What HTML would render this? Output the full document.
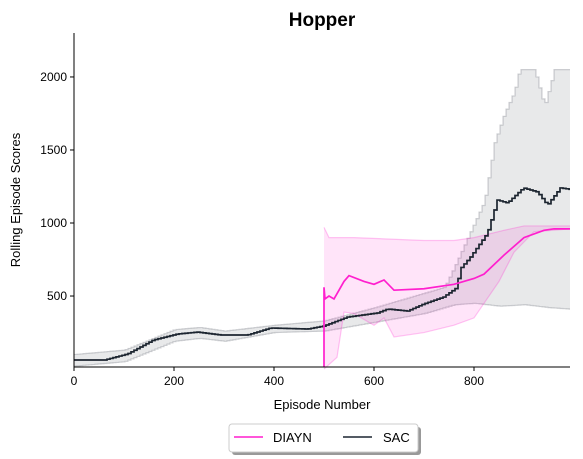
<!DOCTYPE html>
<html><head><meta charset="utf-8"><style>
body{margin:0;background:#fff;}
svg{font-family:"Liberation Sans",sans-serif;display:block;}
</style></head><body>
<svg id="chart" width="583" height="459">
<text x="322" y="26" text-anchor="middle" font-size="19" font-weight="bold">Hopper</text>
<g id="plot"></g>
<g id="axes"></g>
<text x="322" y="409" text-anchor="middle" font-size="13">Episode Number</text>
<text transform="translate(20,200) rotate(-90)" text-anchor="middle" font-size="13">Rolling Episode Scores</text>
<g>
<rect x="232" y="427" width="189" height="28" rx="3" fill="#999"/>
<rect x="229" y="424" width="189" height="28" rx="3" fill="#fff" stroke="#ccc"/>
<g><line x1="234" y1="437" x2="263" y2="437" stroke="#ff1fce" stroke-width="1.5"/><text x="273" y="442" font-size="13">DIAYN</text></g>
<g><line x1="343" y1="437" x2="372" y2="437" stroke="#1c2530" stroke-width="1.5"/><text x="383" y="442" font-size="13">SAC</text></g>
</g>
</svg>
<script>
const sacEp=[0,50,60,106,158,206,246,292,346,392,466,498,546,606,626,666,698,738,766,770,792,826,846,866,898,926,946,972,992];
const sacMean=[62,62,62,103,199,240,253,233,233,281,274,294,356,384,411,397,445,493,560,680,767,931,1157,1137,1240,1212,1123,1240,1230];
const sacBandEp=[0,100,200,250,300,400,500,600,700,740,760,780,800,820,840,860,880,890,920,940,960,992];
const sacUpper=[100,130,270,285,260,300,330,420,520,560,700,850,1000,1150,1550,1750,1900,2050,2050,1800,2050,2050];
const sacLowerEp=[0,100,200,250,300,400,500,600,700,760,800,850,900,950,992];
const sacLower=[20,50,190,210,190,250,260,320,380,440,450,430,440,420,410];
const dEp=[500,502,510,520,540,550,580,600,620,640,700,760,800,820,860,900,940,960,992];
const dMean=[560,480,500,480,600,640,600,580,610,540,550,580,620,650,780,900,950,960,960];
const dUpEp=[500,510,560,700,760,800,860,900,992];
const dUpper=[970,900,900,880,880,900,950,980,980];
const dLoEp=[500,526,540,560,600,620,640,700,760,800,850,880,920,992];
const dLower=[0,80,390,380,300,350,220,250,300,350,600,800,940,960];
const X0=74,X1=570,Y0=367,Y1=33;
const xmin=0,xmax=992,ymin=14,ymax=2301;
const sx=v=>X0+(v-xmin)/(xmax-xmin)*(X1-X0);
const sy=v=>Y0-(v-ymin)/(ymax-ymin)*(Y0-Y1);
const NS="http://www.w3.org/2000/svg";
const plot=document.getElementById('plot'),axes=document.getElementById('axes');
function interp(ex,vs,e){if(e<=ex[0])return vs[0];for(let i=1;i<ex.length;i++){if(e<=ex[i]){const t=(e-ex[i-1])/(ex[i]-ex[i-1]);return vs[i-1]+t*(vs[i]-vs[i-1]);}}return vs[vs.length-1];}
function stepPts(ex,vs,step){const pts=[];for(let e=ex[0];e<=ex[ex.length-1];e+=step){const v=interp(ex,vs,e);pts.push([sx(e),sy(v)]);pts.push([sx(Math.min(e+step,ex[ex.length-1])),sy(v)]);}return pts;}
function smoothPts(ex,vs){return ex.map((e,i)=>[sx(e),sy(vs[i])]);}
function mk(tag,attrs){const el=document.createElementNS(NS,tag);for(const k in attrs)el.setAttribute(k,attrs[k]);return el;}
function band(up,lo,fill,stroke,name){const d='M'+up.map(p=>p.join(',')).join('L')+'L'+lo.slice().reverse().map(p=>p.join(',')).join('L')+'Z';
const p=mk('path',{d:d,fill:fill,stroke:'none'});


plot.appendChild(p);
[up,lo].forEach(pts=>{const l=mk('path',{d:'M'+pts.map(q=>q.join(',')).join('L'),fill:'none',stroke:stroke,'stroke-width':1.2});


plot.appendChild(l);});}
band(stepPts(sacBandEp,sacUpper,6),stepPts(sacLowerEp,sacLower,6),'rgba(28,37,48,0.1)','rgba(28,37,48,0.2)','sac-band');
band(smoothPts(dUpEp,dUpper),smoothPts(dLoEp,dLower),'rgba(255,31,206,0.12)','rgba(255,31,206,0.25)','diayn-band');
const sacLine=mk('path',{d:'M'+stepPts(sacEp,sacMean,6).map(p=>p.join(',')).join('L'),fill:'none',stroke:'#1c2530','stroke-width':1.7});


plot.appendChild(sacLine);
const dp=[[sx(dEp[0]),Y0]].concat(smoothPts(dEp,dMean));
const dLine=mk('path',{d:'M'+dp.map(p=>p.join(',')).join('L'),fill:'none',stroke:'#ff1fce','stroke-width':1.7});


plot.appendChild(dLine);
axes.appendChild(mk('line',{x1:X0,y1:Y1,x2:X0,y2:Y0,stroke:'#000','stroke-width':1}));
axes.appendChild(mk('line',{x1:X0,y1:Y0,x2:X1,y2:Y0,stroke:'#000','stroke-width':1}));
const xTicks=[0,200,400,600,800];
const yTicks=[500,1000,1500,2000];
xTicks.forEach(t=>{const x=sx(t);axes.appendChild(mk('line',{x1:x,y1:Y0,x2:x,y2:Y0+4,stroke:'#000'}));
const tx=mk('text',{x:x,y:Y0+18,'text-anchor':'middle','font-size':12});tx.textContent=t;


axes.appendChild(tx);});
yTicks.forEach(t=>{const y=sy(t);axes.appendChild(mk('line',{x1:X0-4,y1:y,x2:X0,y2:y,stroke:'#000'}));
const tx=mk('text',{x:X0-7,y:y+4,'text-anchor':'end','font-size':12});tx.textContent=t;


axes.appendChild(tx);});
</script>
</body></html>
